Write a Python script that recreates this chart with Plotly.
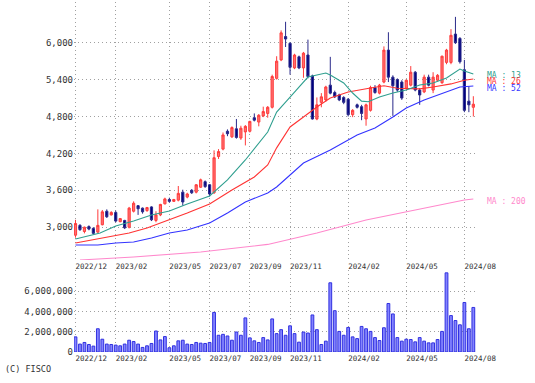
import plotly.graph_objects as go

# ---- data (weekly candles, index 0 = week of 2022-12-05) ----
opens = [2870, 3030, 2930, 3010, 2980, 2920, 3040, 3260, 3200, 3240,
         3090, 3110, 3000, 3260, 3350, 3310, 3270, 3330, 3110, 3200,
         3380, 3450, 3420, 3440, 3570, 3490, 3600, 3570, 3650, 3740,
         3690, 3560, 4150, 4270, 4560, 4470, 4600, 4450, 4550, 4560,
         4780, 4710, 4810, 4850, 4950, 5420, 5720, 6100, 5990, 5590,
         5770, 5590, 5800, 5460, 4760, 5030, 5070, 5310, 5190, 5150,
         5110, 5080, 4830, 4990, 4960, 4760, 4900, 5270, 5180, 5360,
         5880, 5440, 5400, 5360, 5260, 5310, 5520, 5230, 5200, 5440,
         5230, 5390, 5350, 5680, 5680, 6140, 6070, 5560, 5050, 4950]
highs = [3120, 3050, 3010, 3030, 3000, 3290, 3280, 3290, 3260, 3270,
         3150, 3120, 3330, 3420, 3360, 3320, 3330, 3340, 3260, 3380,
         3480, 3480, 3460, 3670, 3610, 3560, 3620, 3700, 3790, 3760,
         3700, 4250, 4270, 4540, 4590, 4640, 4760, 4650, 4660, 4730,
         4850, 4840, 4960, 4970, 5480, 5780, 6200, 6340, 6010, 5820,
         5790, 5850, 6050, 5480, 5110, 5180, 5300, 5770, 5220, 5170,
         5130, 5100, 4920, 5010, 4990, 5010, 5300, 5310, 5330, 5940,
         6170, 5470, 5420, 5390, 5400, 5620, 5540, 5260, 5480, 5480,
         5520, 5490, 5790, 5900, 6220, 6420, 6090, 5720, 5290, 5130]
lows = [2830, 2940, 2900, 2950, 2880, 2900, 3030, 3150, 3190, 3080,
        3080, 2970, 2980, 3240, 3200, 3220, 3250, 3100, 3080, 3180,
        3370, 3400, 3410, 3420, 3350, 3470, 3540, 3550, 3640, 3640,
        3500, 3540, 4110, 4250, 4480, 4450, 4440, 4420, 4330, 4540,
        4720, 4640, 4790, 4780, 4930, 5400, 5700, 5930, 5480, 5570,
        5570, 5430, 5420, 4750, 4740, 4950, 5040, 5160, 5100, 5050,
        5000, 4800, 4790, 4930, 4740, 4650, 4880, 5170, 5160, 5340,
        5360, 4810, 5200, 5070, 5230, 5290, 5210, 4990, 5180, 5290,
        5180, 5370, 5330, 5650, 5650, 5980, 5660, 4870, 4870, 4800]
closes = [3060, 2960, 3000, 2970, 2900, 3030, 3250, 3170, 3240, 3100,
          3140, 2990, 3310, 3390, 3300, 3250, 3320, 3120, 3200, 3370,
          3460, 3420, 3450, 3550, 3410, 3540, 3560, 3690, 3770, 3660,
          3540, 4130, 4230, 4500, 4520, 4620, 4460, 4610, 4640, 4720,
          4740, 4820, 4880, 4950, 5450, 5700, 6160, 6060, 5600, 5800,
          5590, 5830, 5450, 4760, 4990, 5120, 5280, 5180, 5120, 5070,
          5030, 4830, 4900, 4950, 4850, 4990, 5270, 5190, 5310, 5880,
          5440, 5300, 5230, 5100, 5390, 5520, 5230, 5150, 5440, 5310,
          5440, 5470, 5780, 5880, 6120, 6000, 5690, 4900, 4990, 5000]
volumes_m = [1.49, 0.78, 0.94, 0.74, 0.58, 2.29, 1.26, 0.78, 0.74, 0.68,
             0.61, 0.78, 1.16, 1.03, 0.78, 0.45, 0.61, 0.84, 2.07, 1.19,
             1.52, 0.42, 0.61, 1.10, 1.16, 0.78, 0.74, 0.94, 0.87, 0.84,
             0.94, 3.90, 1.65, 1.74, 1.58, 1.16, 1.97, 1.65, 3.36, 1.39,
             1.10, 0.94, 1.42, 1.19, 3.26, 1.81, 2.20, 1.65, 2.58, 1.81,
             0.97, 1.97, 1.87, 3.65, 2.20, 0.74, 1.07, 6.82, 4.07, 2.03,
             1.65, 2.42, 1.49, 1.32, 2.52, 2.29, 2.03, 1.42, 1.13, 2.39,
             4.78, 3.75, 1.42, 1.07, 1.26, 1.23, 1.00, 1.42, 1.07, 0.90,
             0.90, 1.23, 2.03, 7.80, 3.59, 3.10, 2.68, 4.88, 2.29, 4.39]

# moving averages read at sampled weeks (week index, price)
ma13_idx = [0, 5.5, 9, 13, 17, 21, 25, 30, 34, 38, 43, 45, 48, 50, 52, 56, 57,
            60, 62, 64, 65.5, 68, 71, 74, 77, 80, 83, 86, 87, 89]
ma13_val = [2808, 2906, 3020, 3101, 3199, 3264, 3378, 3508, 3768, 4093, 4548,
            4873, 5117, 5280, 5442, 5507, 5475, 5345, 5182, 5050, 5040, 5117,
            5182, 5231, 5312, 5345, 5426, 5572, 5540, 5491]
ma26_idx = [0, 5, 12, 16, 21, 25, 30, 35, 40, 43, 45, 48, 51, 54, 57, 61, 66,
            69, 72, 77, 80, 84, 87, 89]
ma26_val = [2743, 2808, 2906, 2987, 3117, 3231, 3378, 3605, 3817, 4012, 4290,
            4630, 4792, 4955, 5101, 5198, 5263, 5300, 5260, 5250, 5280, 5330,
            5390, 5410]
ma52_idx = [0, 5, 9, 13, 17, 21, 25, 30, 34, 38, 43, 45, 51, 57, 63, 67, 71,
            74, 78, 83, 86, 89]
ma52_val = [2710, 2710, 2743, 2760, 2824, 2906, 2954, 3068, 3231, 3410, 3556,
            3654, 4044, 4255, 4499, 4613, 4792, 4938, 5068, 5198, 5280, 5296]
ma200_idx = [1, 13, 28, 43, 54, 65, 76, 87, 89]
ma200_val = [2467, 2516, 2597, 2720, 2906, 3117, 3280, 3442, 3458]

tick_idx = [0, 9, 21, 30, 39, 48, 61, 74, 87]
tick_text = ["2022/12", "2023/02", "2023/05", "2023/07", "2023/09",
             "2023/11", "2024/02", "2024/05", "2024/08"]
price_ticks = [3000, 3600, 4200, 4800, 5400, 6000]
vol_ticks = [0, 2000000, 4000000, 6000000]

ma_labels = ["MA : 13", "MA : 26", "MA : 52", "MA : 200"]
ma_colors = ["#2f9f8f", "#ff3333", "#3333ff", "#ff88cc"]

# ---- figure ----
W, H = 535, 383
x = list(range(len(opens)))
vols = [v * 1e6 for v in volumes_m]

fig = go.Figure()
for idx, val, col in [(ma200_idx, ma200_val, ma_colors[3]),
                      (ma52_idx, ma52_val, ma_colors[2]),
                      (ma26_idx, ma26_val, ma_colors[1]),
                      (ma13_idx, ma13_val, ma_colors[0])]:
    fig.add_trace(go.Scatter(x=idx, y=val, mode="lines",
                             line=dict(color=col, width=1.1),
                             hoverinfo="skip", xaxis="x", yaxis="y"))

fig.add_trace(go.Candlestick(
    x=x, open=opens, high=highs, low=lows, close=closes,
    increasing=dict(fillcolor="#ff7070", line=dict(color="#ff3b3b", width=1)),
    decreasing=dict(fillcolor="#000080", line=dict(color="#2a2a8a", width=1)),
    whiskerwidth=0, xaxis="x", yaxis="y"))

fig.add_trace(go.Bar(x=x, y=vols, width=0.62,
                     marker=dict(color="#8484ff", line=dict(color="#3030e0", width=1)),
                     xaxis="x2", yaxis="y2"))

# pixel -> axis helpers
left_px, right_px = 74, 476
px_per_week = 4.47
x0 = (left_px - 75.5) / px_per_week
x1 = (right_px - 75.5) / px_per_week
def price_at(ypx):
    return 6000 - (ypx - 42.7) * 16.26

grid = dict(showgrid=True, gridcolor="#a0a0a0", griddash="1px,3px", gridwidth=1,
            zeroline=False, showline=False, ticks="", automargin=False)
xfont = dict(family="DejaVu Sans Mono", size=7.5, color="#333333")
yfont = dict(family="DejaVu Sans Mono", size=9, color="#333333")

fig.update_layout(
    width=W, height=H, margin=dict(l=0, r=0, t=0, b=0, autoexpand=False),
    paper_bgcolor="white", plot_bgcolor="white", showlegend=False,
    xaxis=dict(domain=[left_px / W, right_px / W], range=[x0, x1],
               tickmode="array", tickvals=tick_idx, ticktext=tick_text,
               tickfont=xfont, tickangle=0, ticklabelposition="outside right",
               rangeslider=dict(visible=False), anchor="y", **grid),
    xaxis2=dict(domain=[left_px / W, right_px / W], range=[x0, x1],
                tickmode="array", tickvals=tick_idx, ticktext=tick_text,
                tickfont=xfont, tickangle=0, ticklabelposition="outside right",
                anchor="y2", **grid),
    yaxis=dict(domain=[(H - 260) / H, (H - 2) / H],
               range=[price_at(260), price_at(2)],
               tickmode="array", tickvals=price_ticks,
               ticktext=[f"{v:,}" for v in price_ticks],
               tickfont=yfont, anchor="x", **grid),
    yaxis2=dict(domain=[(H - 352) / H, (H - 270) / H],
                range=[0, 8.08e6], tickmode="array", tickvals=vol_ticks,
                ticktext=[f"{v:,}" for v in vol_ticks],
                tickfont=yfont, anchor="x2", **grid),
)

label_y = [price_at(75), price_at(81), price_at(88), price_at(201)]
for txt, col, yv in zip(ma_labels, ma_colors, label_y):
    fig.add_annotation(x=485 / W, y=yv, xref="paper", yref="y", text=txt,
                       showarrow=False, xanchor="left", yanchor="middle",
                       font=dict(family="DejaVu Sans Mono", size=8, color=col))

fig.add_annotation(x=3 / W, y=(H - 369) / H, xref="paper", yref="paper",
                   text="(C) FISCO", showarrow=False, xanchor="left",
                   yanchor="middle",
                   font=dict(family="DejaVu Sans Mono", size=8.5, color="#333333"))

fig.write_html("out.html", config={"displayModeBar": False},
               post_script="document.body.style.margin='0';document.body.style.overflow='hidden';")
